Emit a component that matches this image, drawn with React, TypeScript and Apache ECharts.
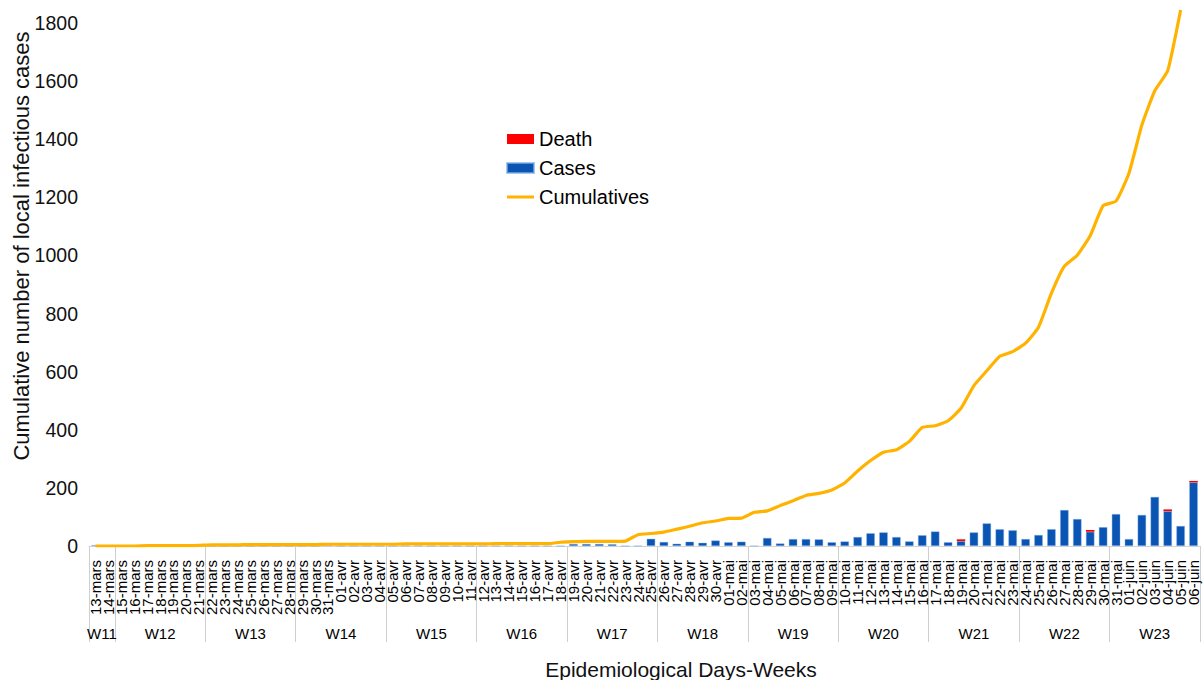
import React, { useEffect, useRef } from "react";
import * as echarts from "echarts";

const days = [
  "13-mars","14-mars","15-mars","16-mars","17-mars","18-mars","19-mars","20-mars","21-mars","22-mars",
  "23-mars","24-mars","25-mars","26-mars","27-mars","28-mars","29-mars","30-mars","31-mars",
  "01-avr","02-avr","03-avr","04-avr","05-avr","06-avr","07-avr","08-avr","09-avr","10-avr",
  "11-avr","12-avr","13-avr","14-avr","15-avr","16-avr","17-avr","18-avr","19-avr","20-avr",
  "21-avr","22-avr","23-avr","24-avr","25-avr","26-avr","27-avr","28-avr","29-avr","30-avr",
  "01-mai","02-mai","03-mai","04-mai","05-mai","06-mai","07-mai","08-mai","09-mai","10-mai",
  "11-mai","12-mai","13-mai","14-mai","15-mai","16-mai","17-mai","18-mai","19-mai","20-mai",
  "21-mai","22-mai","23-mai","24-mai","25-mai","26-mai","27-mai","28-mai","29-mai","30-mai","31-mai",
  "01-juin","02-juin","03-juin","04-juin","05-juin","06-juin"
];

const cases = [
  3,0,0,0,2,2,0,0,1,0,
  0,0,0,0,0,0,0,0,2,
  0,0,0,0,0,1,1,0,0,0,
  0,0,0,1,0,0,0,0,7,7,
  7,6,0,0,25,14,8,15,11,19,
  13,15,0,28,9,24,24,23,13,16,
  31,44,47,31,16,37,50,13,17,47,
  78,58,54,24,38,58,124,93,49,65,110,
  24,107,169,120,69,219
];

const deaths = [
  0,0,0,0,0,0,0,0,0,0,
  0,0,0,0,0,0,0,0,0,
  0,0,0,0,0,0,0,0,0,0,
  0,0,0,0,0,0,0,0,0,0,
  0,0,0,0,0,0,0,0,0,0,
  0,0,0,0,0,0,0,0,0,0,
  0,0,0,0,0,0,0,0,6,0,
  0,0,0,0,0,0,0,0,6,0,0,
  0,0,0,6,0,5
];

const cumulatives = [
  0,0,0,0,1,1,1,1,2,4,
  4,4,5,5,5,5,5,5,6,
  6,6,6,6,6,7,7,7,7,7,
  7,7,8,8,8,8,8,13,15,
  16,16,16,17,39,43,48,58,68,80,
  86,95,96,116,121,139,156,174,181,193,
  217,258,294,323,331,360,408,414,431,474,
  552,603,653,669,698,753,870,963,1001,1068,1171,
  1187,1283,1449,1567,1636,1845
];

const weeks = ["W11","W12","W13","W14","W15","W16","W17","W18","W19","W20","W21","W22","W23"];
const weekStarts = ["13-mars","15-mars","22-mars","29-mars","05-avr","12-avr","19-avr","26-avr","03-mai","10-mai","17-mai","24-mai","31-mai"];

const yTicks = { min: 0, max: 1850, interval: 200 };

const FONT = "'Liberation Sans', Arial, Helvetica, sans-serif";

const LINE_ICON = "path://M0,0L0.01,0M0,3.6H27V6.4H0ZM27,10L26.99,10";

export default function App() {
  const ref = useRef<HTMLDivElement>(null);

  useEffect(() => {
    if (!ref.current) return;
    const chart = echarts.init(ref.current, null, { renderer: "svg" });

    const startIdx = weekStarts.map((d) => days.indexOf(d));
    const boundaries = startIdx.map((i) => i - 0.5).concat([days.length - 0.5]);
    const centers = startIdx.map((s, k) => {
      const e = k + 1 < startIdx.length ? startIdx[k + 1] - 1 : days.length - 1;
      return (s + e) / 2;
    });

    const option: any = {
      animation: false,
      backgroundColor: "#ffffff",
      textStyle: { fontFamily: FONT },
      grid: { left: 89, right: 3, top: 8.5, bottom: 134, containLabel: false },
      legend: {
        orient: "vertical",
        left: 506,
        top: 129,
        padding: 0,
        itemGap: 9,
        itemWidth: 27,
        itemHeight: 10,
        data: [
          { name: "Death", icon: "rect" },
          { name: "Cases", icon: "rect" },
          { name: "Cumulatives", icon: LINE_ICON },
        ],
        textStyle: { fontSize: 20, color: "#000", fontFamily: FONT },
      },
      xAxis: [
        {
          type: "category",
          data: days,
          boundaryGap: true,
          position: "bottom",
          axisLine: { show: true, lineStyle: { color: "#d4d4d4", width: 1 } },
          axisTick: { show: false },
          axisLabel: {
            interval: 0,
            rotate: 90,
            margin: 14,
            fontSize: 15,
            color: "#000",
            fontFamily: FONT,
          },
          splitLine: { show: false },
        },
        {
          type: "value",
          position: "bottom",
          min: -0.5,
          max: days.length - 0.5,
          axisLine: { show: false, onZero: false },
          splitLine: { show: false },
          axisTick: {
            show: true,
            customValues: boundaries,
            length: 96,
            lineStyle: { color: "#cfcfcf", width: 1 },
          },
          axisLabel: {
            customValues: centers,
            margin: 80,
            fontSize: 15,
            color: "#000",
            fontFamily: FONT,
            formatter: (v: number) => {
              let best = 0;
              centers.forEach((c, k) => {
                if (Math.abs(c - v) < Math.abs(centers[best] - v)) best = k;
              });
              return weeks[best];
            },
          },
        },
      ],
      yAxis: {
        type: "value",
        min: yTicks.min,
        max: yTicks.max,
        interval: yTicks.interval,
        axisLine: { show: false, onZero: false },
        axisTick: { show: false },
        splitLine: { show: false },
        axisLabel: {
          showMaxLabel: false,
          margin: 11,
          fontSize: 19.5,
          color: "#111",
          fontFamily: FONT,
          formatter: (v: number) => String(v),
        },
      },
      graphic: [
        {
          type: "text",
          x: 21,
          y: 246,
          rotation: Math.PI / 2,
          style: {
            text: "Cumulative number of local infectious cases",
            fontSize: 22,
            fontFamily: FONT,
            fill: "#111",
            align: "center",
            verticalAlign: "middle",
          },
        },
        {
          type: "text",
          x: 681,
          y: 669,
          style: {
            text: "Epidemiological Days-Weeks",
            fontSize: 21,
            fontFamily: FONT,
            fill: "#111",
            align: "center",
            verticalAlign: "middle",
          },
        },
      ],
      series: [
        {
          name: "Cases",
          type: "bar",
          stack: "daily",
          xAxisIndex: 0,
          data: cases,
          barWidth: "66%",
          itemStyle: { color: "#0a54b3", borderColor: "rgba(130,175,230,0.7)", borderWidth: 0.6 },
        },
        {
          name: "Death",
          type: "bar",
          stack: "daily",
          xAxisIndex: 0,
          data: deaths,
          barWidth: "66%",
          itemStyle: { color: "#ff0000" },
        },
        {
          name: "Cumulatives",
          type: "line",
          xAxisIndex: 0,
          data: cumulatives,
          symbol: "none",
          smooth: 0.15,
          z: 5,
          lineStyle: { width: 3.2, color: "#ffb300" },
          itemStyle: { color: "#ffb300" },
        },
      ],
    };

    chart.setOption(option);
    return () => chart.dispose();
  }, []);

  return (
    <div
      ref={ref}
      style={{ position: "fixed", left: 0, top: 0, width: 1203, height: 680, background: "#fff" }}
    />
  );
}
